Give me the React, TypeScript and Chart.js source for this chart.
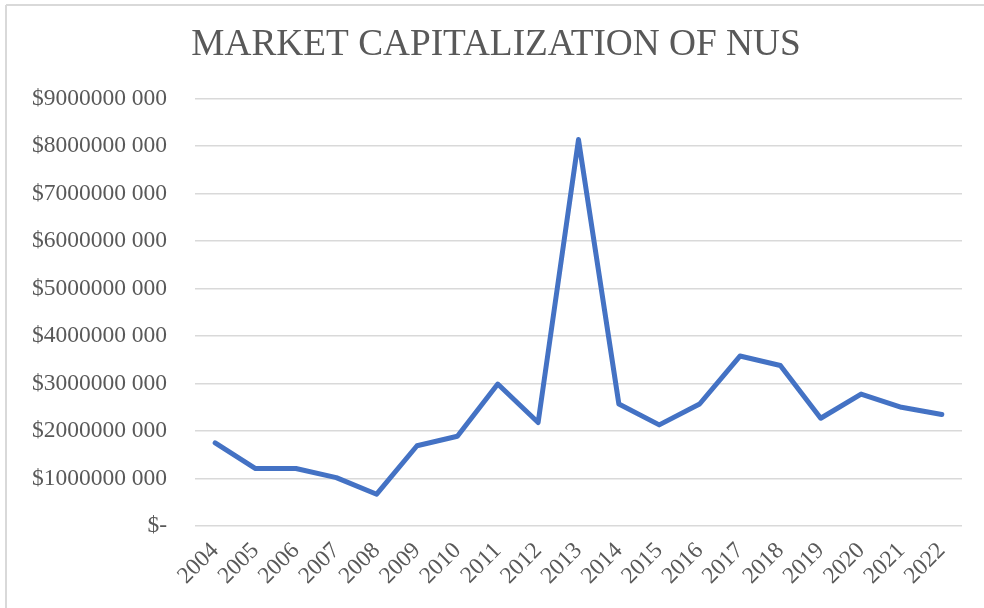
import React, { useEffect, useRef } from "react";
import { Chart, registerables } from "chart.js";

Chart.register(...registerables);

const years = [
  "2004", "2005", "2006", "2007", "2008", "2009", "2010", "2011", "2012", "2013",
  "2014", "2015", "2016", "2017", "2018", "2019", "2020", "2021", "2022",
];
const marketCap = [
  1.75e9, 1.21e9, 1.21e9, 1.02e9, 0.67e9, 1.69e9, 1.89e9, 2.99e9, 2.18e9, 8.14e9,
  2.57e9, 2.13e9, 2.57e9, 3.58e9, 3.38e9, 2.27e9, 2.78e9, 2.5e9, 2.35e9,
];
const yTickValues = [0, 1e9, 2e9, 3e9, 4e9, 5e9, 6e9, 7e9, 8e9, 9e9];
const yTickLabels = [
  "$-", "$1000000 000", "$2000000 000", "$3000000 000", "$4000000 000",
  "$5000000 000", "$6000000 000", "$7000000 000", "$8000000 000", "$9000000 000",
];
const titleText = "MARKET CAPITALIZATION OF NUS";

const FONT = "'Liberation Serif', 'Times New Roman', serif";
const TEXT = "#595959";
const GRID = "#d9d9d9";

const frame = {
  id: "frame",
  beforeDraw(chart: any) {
    const ctx = chart.ctx;
    ctx.save();
    ctx.fillStyle = "#ffffff";
    ctx.fillRect(0, 0, chart.width, chart.height);
    ctx.strokeStyle = GRID;
    ctx.lineWidth = 2;
    ctx.beginPath();
    ctx.moveTo(6, 5);
    ctx.lineTo(6, chart.height);
    ctx.moveTo(6, 5);
    ctx.lineTo(chart.width, 5);
    ctx.stroke();
    ctx.restore();
  },
};

export default function App() {
  const ref = useRef<HTMLCanvasElement | null>(null);
  useEffect(() => {
    if (!ref.current) return;
    const chart = new Chart(ref.current, {
      type: "line",
      data: {
        labels: years,
        datasets: [
          {
            data: marketCap,
            borderColor: "#4472C4",
            borderWidth: 5,
            pointRadius: 0,
            tension: 0,
            fill: false,
            borderJoinStyle: "round",
            borderCapStyle: "round",
          },
        ],
      },
      options: {
        animation: false,
        responsive: false,
        layout: { padding: { left: 30, right: 22, top: 0, bottom: 0 } },
        plugins: {
          legend: { display: false },
          tooltip: { enabled: false },
          title: {
            display: true,
            text: titleText,
            color: TEXT,
            font: { family: FONT, size: 37.3, weight: "normal" },
            padding: { top: 23, bottom: 31 },
          },
        },
        scales: {
          x: {
            offset: true,
            grid: { display: false, drawTicks: false },
            border: { display: false },
            ticks: {
              color: TEXT,
              font: { family: FONT, size: 23.5 },
              minRotation: 45,
              maxRotation: 45,
              padding: 11,
              autoSkip: false,
            },
            afterFit(scale: any) {
              scale.height = 82;
            },
          },
          y: {
            min: 0,
            max: 9e9,
            grid: { color: GRID, lineWidth: 1.5, drawTicks: false },
            border: { display: false },
            afterBuildTicks(scale: any) {
              scale.ticks = yTickValues.map((v) => ({ value: v }));
            },
            ticks: {
              color: TEXT,
              font: { family: FONT, size: 23.5 },
              padding: 28,
              callback(value: any) {
                const i = yTickValues.indexOf(Number(value));
                return i >= 0 ? yTickLabels[i] : "";
              },
            },
            afterFit(scale: any) {
              scale.width = 165;
            },
          },
        },
      },
      plugins: [frame],
    });
    return () => chart.destroy();
  }, []);
  return (
    <div style={{ position: "absolute", left: 0, top: 0, width: 984, height: 608, background: "#fff" }}>
      <canvas ref={ref} width={984} height={608} style={{ width: 984, height: 608, display: "block" }} />
    </div>
  );
}
